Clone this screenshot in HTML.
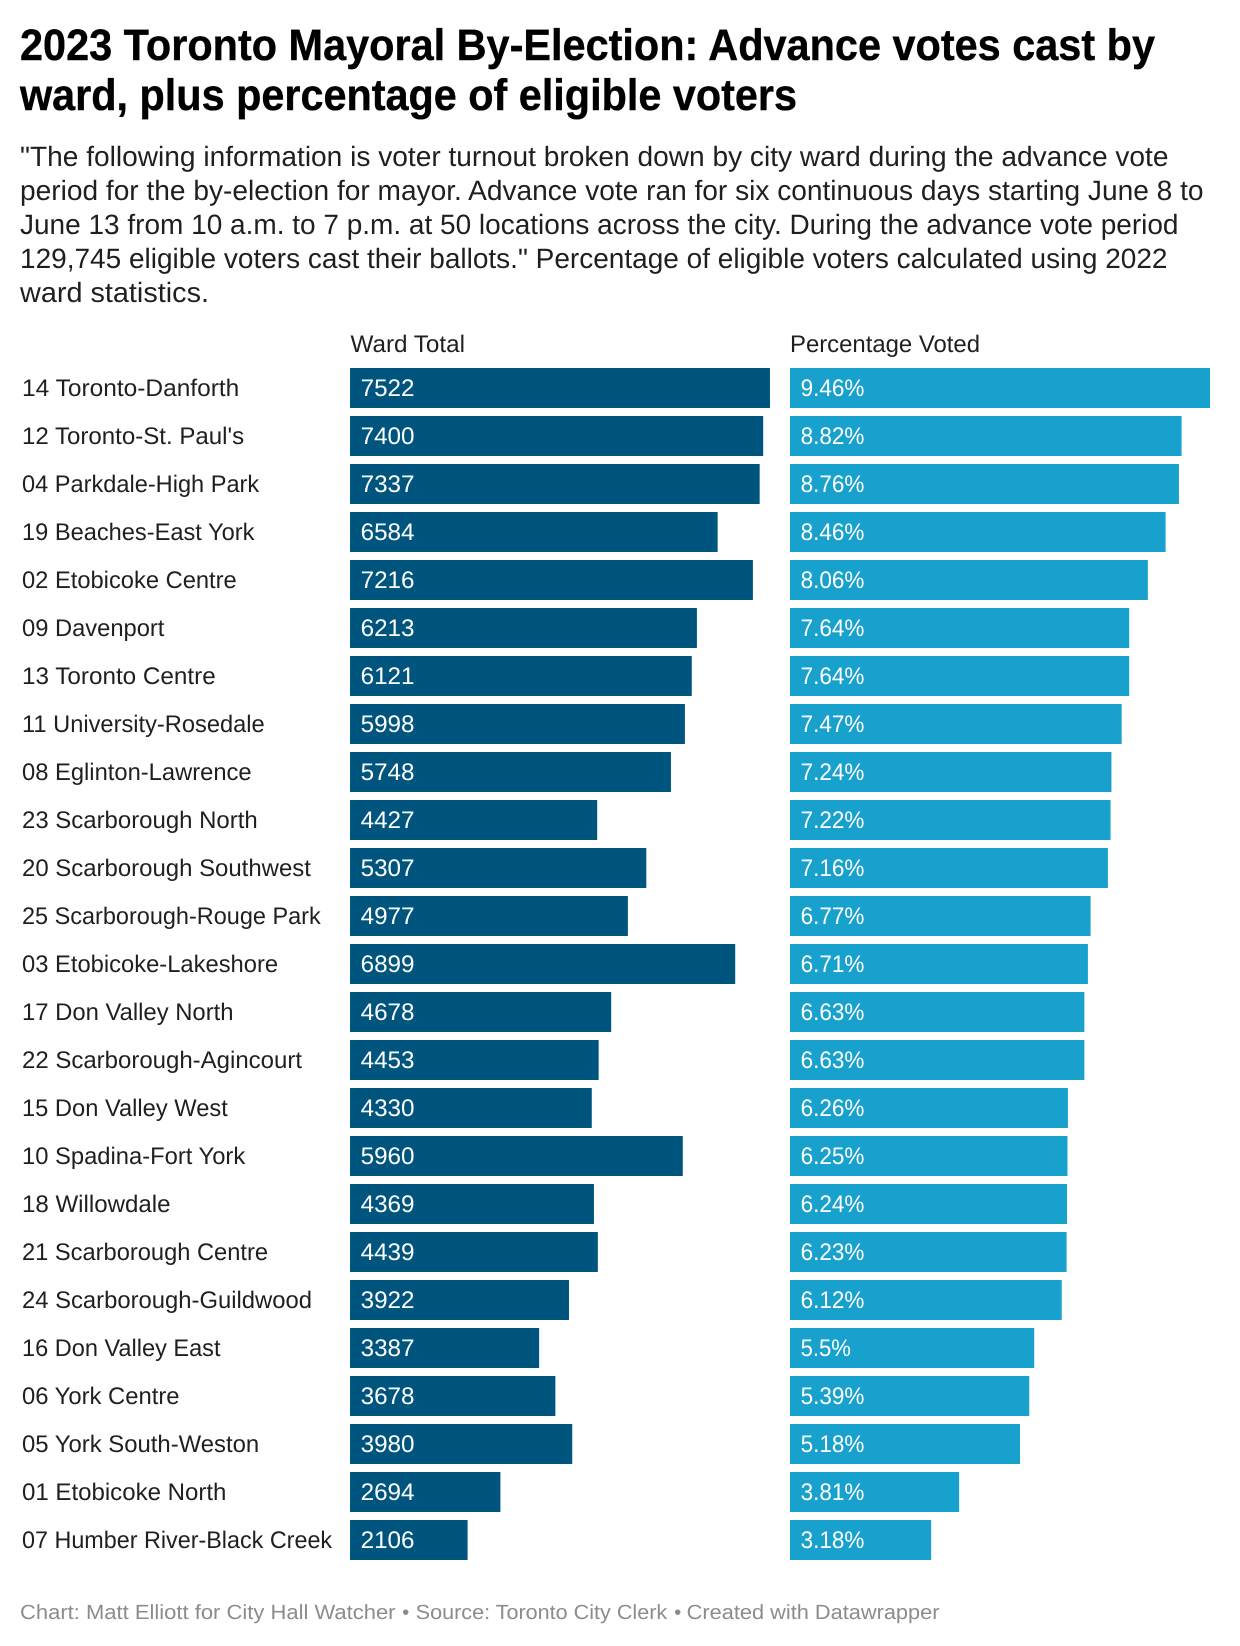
<!DOCTYPE html>
<html lang="en">
<head>
<meta charset="utf-8">
<title>2023 Toronto Mayoral By-Election: Advance votes cast by ward</title>
<style>
  html, body { margin: 0; padding: 0; background: #fff; }
  svg { display: block; font-family: "Liberation Sans", Arial, sans-serif; text-rendering: geometricPrecision; }
  .title { font-size: 44px; font-weight: 700; fill: #000; stroke: #000; stroke-width: 0.4px; }
  .desc { font-size: 28px; fill: #1f1f1f; }
  .head, .label { font-size: 24px; fill: #1f1f1f; }
  .value { font-size: 24px; fill: #fff; }
  .foot { font-size: 20.5px; fill: #8c8c8c; }
</style>
</head>
<body>
<svg id="chart" xmlns="http://www.w3.org/2000/svg" width="1240" height="1646" viewBox="0 0 1240 1646">
  <rect x="0" y="0" width="1240" height="1646" fill="#ffffff"/>
  <g>
    <text class="title" x="20" y="60" textLength="1135" lengthAdjust="spacingAndGlyphs">2023 Toronto Mayoral By-Election: Advance votes cast by</text>
    <text class="title" x="20" y="110" textLength="777" lengthAdjust="spacingAndGlyphs">ward, plus percentage of eligible voters</text>
  </g>
  <g>
    <text class="desc" x="20" y="166" textLength="1148.5" lengthAdjust="spacingAndGlyphs">"The following information is voter turnout broken down by city ward during the advance vote</text>
    <text class="desc" x="20" y="200" textLength="1183.5" lengthAdjust="spacingAndGlyphs">period for the by-election for mayor. Advance vote ran for six continuous days starting June 8 to</text>
    <text class="desc" x="20" y="234" textLength="1158.5" lengthAdjust="spacingAndGlyphs">June 13 from 10 a.m. to 7 p.m. at 50 locations across the city. During the advance vote period</text>
    <text class="desc" x="20" y="268" textLength="1147.5" lengthAdjust="spacingAndGlyphs">129,745 eligible voters cast their ballots." Percentage of eligible voters calculated using 2022</text>
    <text class="desc" x="20" y="302" textLength="189" lengthAdjust="spacingAndGlyphs">ward statistics.</text>
  </g>
  <text class="head" x="350.5" y="352" textLength="114.5" lengthAdjust="spacingAndGlyphs">Ward Total</text>
  <text class="head" x="790" y="352" textLength="190" lengthAdjust="spacingAndGlyphs">Percentage Voted</text>
  <g id="rows"></g>
  <g>
    <text class="foot" x="20" y="1619" textLength="375.5" lengthAdjust="spacingAndGlyphs">Chart: Matt Elliott for City Hall Watcher</text>
    <text class="foot" x="402.1" y="1619">•</text>
    <text class="foot" x="415.7" y="1619" textLength="251.5" lengthAdjust="spacingAndGlyphs">Source: Toronto City Clerk</text>
    <text class="foot" x="674.1" y="1619">•</text>
    <text class="foot" x="686.7" y="1619" textLength="252.8" lengthAdjust="spacingAndGlyphs">Created with Datawrapper</text>
  </g>
</svg>
<script>
const wards = ["14 Toronto-Danforth","12 Toronto-St. Paul's","04 Parkdale-High Park","19 Beaches-East York","02 Etobicoke Centre","09 Davenport","13 Toronto Centre","11 University-Rosedale","08 Eglinton-Lawrence","23 Scarborough North","20 Scarborough Southwest","25 Scarborough-Rouge Park","03 Etobicoke-Lakeshore","17 Don Valley North","22 Scarborough-Agincourt","15 Don Valley West","10 Spadina-Fort York","18 Willowdale","21 Scarborough Centre","24 Scarborough-Guildwood","16 Don Valley East","06 York Centre","05 York South-Weston","01 Etobicoke North","07 Humber River-Black Creek"];
const wardTotals = [7522,7400,7337,6584,7216,6213,6121,5998,5748,4427,5307,4977,6899,4678,4453,4330,5960,4369,4439,3922,3387,3678,3980,2694,2106];
const percentVoted = [9.46,8.82,8.76,8.46,8.06,7.64,7.64,7.47,7.24,7.22,7.16,6.77,6.71,6.63,6.63,6.26,6.25,6.24,6.23,6.12,5.5,5.39,5.18,3.81,3.18];

const NS = 'http://www.w3.org/2000/svg';
const rows = document.getElementById('rows');
const rowTop = 368, rowStep = 48, barHeight = 40, barMaxWidth = 420;
const totalLeft = 350, pctLeft = 790, fontSize = 24;
const xTotal = v => v / Math.max(...wardTotals) * barMaxWidth;
const xPct = v => v / Math.max(...percentVoted) * barMaxWidth;
const yRow = i => rowTop + i * rowStep;

// Target advance widths (em) so that line lengths follow the proportions of the original typeface.
const advance = {a:.544,b:.561,c:.523,d:.564,e:.530,f:.347,g:.561,h:.551,i:.243,j:.239,k:.507,l:.243,m:.876,n:.552,o:.570,p:.561,q:.568,r:.338,s:.516,t:.327,u:.551,v:.484,w:.751,x:.496,y:.473,z:.496,
  A:.652,B:.623,C:.651,D:.656,E:.568,F:.553,G:.681,H:.713,I:.272,J:.552,K:.626,L:.537,M:.873,N:.713,O:.688,P:.631,Q:.688,R:.616,S:.594,T:.597,U:.648,V:.636,W:.887,X:.627,Y:.600,Z:.599,
  ' ':.248,'-':.276,'.':.257,"'":.171,'%':.715};
function targetWidth(str) {
  let w = 0;
  for (const ch of str) w += advance[ch] !== undefined ? advance[ch] : .5615;
  return w * fontSize;
}

function addText(cls, x, y, str) {
  const t = document.createElementNS(NS, 'text');
  t.setAttribute('class', cls);
  t.setAttribute('x', x);
  t.setAttribute('y', y);
  t.setAttribute('textLength', targetWidth(str).toFixed(1));
  t.setAttribute('lengthAdjust', 'spacingAndGlyphs');
  t.textContent = str;
  rows.appendChild(t);
  return t;
}
function addBar(x, y, w, color) {
  const r = document.createElementNS(NS, 'rect');
  r.setAttribute('x', x);
  r.setAttribute('y', y);
  r.setAttribute('width', w.toFixed(2));
  r.setAttribute('height', barHeight);
  r.setAttribute('fill', color);
  rows.appendChild(r);
  return r;
}
wards.forEach((ward, i) => {
  const y = yRow(i);
  const base = y + 28;
  const label = addText('label', 22, base, ward);
  
  
  const totalBar = addBar(totalLeft, y, xTotal(wardTotals[i]), '#00557f');
  
  
  const totalValue = addText('value', totalLeft + 10.6, base, String(wardTotals[i]));
  
  
  const pctBar = addBar(pctLeft, y, xPct(percentVoted[i]), '#18a1cd');
  
  
  const pctValue = addText('value', pctLeft + 10.6, base, percentVoted[i] + '%');
  
  
});
</script>
</body>
</html>
